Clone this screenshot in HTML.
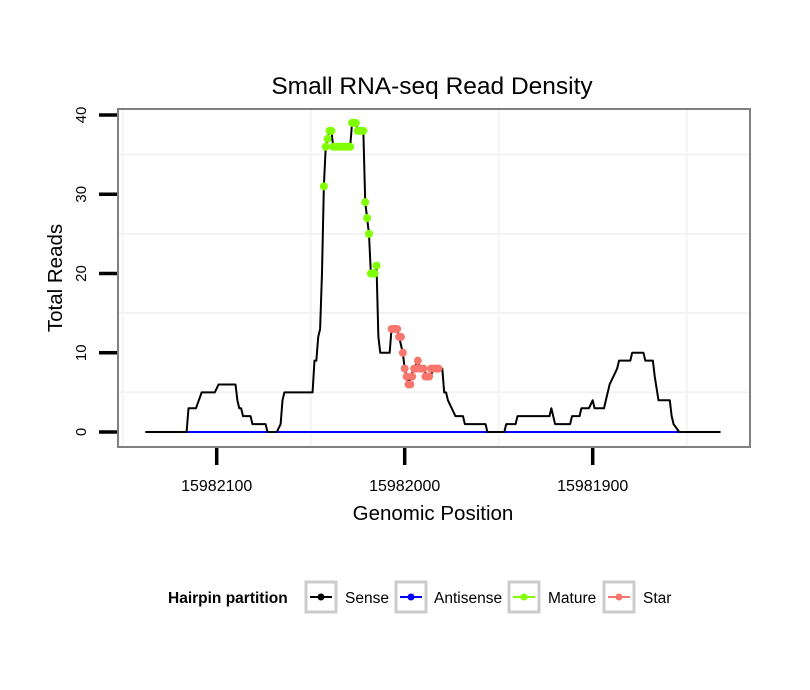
<!DOCTYPE html>
<html><head><meta charset="utf-8"><style>
body{margin:0;background:#fff;}
svg{display:block;font-family:"Liberation Sans",sans-serif;}
</style></head><body>
<svg id="chart" width="810" height="690" viewBox="0 0 810 690" xmlns="http://www.w3.org/2000/svg">
<rect width="810" height="690" fill="#fff"/>
<text x="432" y="94" font-size="24.5" text-anchor="middle" fill="#000">Small RNA-seq Read Density</text>
<g id="grid"></g>
<g id="series"></g>
<rect x="118" y="109" width="632" height="338" fill="none" stroke="#808080" stroke-width="2"/>
<g id="axes"></g>
<text x="433" y="520" font-size="20.5" text-anchor="middle">Genomic Position</text>
<text transform="translate(62,278) rotate(-90)" font-size="20.5" text-anchor="middle">Total Reads</text>
<g>
<text x="168" y="603" font-size="15.5" font-weight="bold">Hairpin partition</text>
<g>
<rect x="306" y="582" width="30" height="30" fill="#fff" stroke="#cccccc" stroke-width="3"/>
<line x1="310" y1="597" x2="332" y2="597" stroke="#000" stroke-width="2"/><circle cx="321" cy="597" r="3.5" fill="#000"/>
<text x="345" y="603" font-size="15.5">Sense</text></g>
<g>
<rect x="396" y="582" width="30" height="30" fill="#fff" stroke="#cccccc" stroke-width="3"/>
<line x1="400" y1="597" x2="422" y2="597" stroke="#0000ff" stroke-width="2"/><circle cx="411" cy="597" r="3.5" fill="#0000ff"/>
<text x="434" y="603" font-size="15.5">Antisense</text></g>
<g>
<rect x="509" y="582" width="30" height="30" fill="#fff" stroke="#cccccc" stroke-width="3"/>
<line x1="513" y1="597" x2="535" y2="597" stroke="#7fff00" stroke-width="2"/><circle cx="524" cy="597" r="3.5" fill="#7fff00"/>
<text x="548" y="603" font-size="15.5">Mature</text></g>
<g>
<rect x="604" y="582" width="30" height="30" fill="#fff" stroke="#cccccc" stroke-width="3"/>
<line x1="608" y1="597" x2="630" y2="597" stroke="#f8766d" stroke-width="2"/><circle cx="619" cy="597" r="3.5" fill="#f8766d"/>
<text x="643" y="603" font-size="15.5">Star</text></g>
</g>
</svg>
<script>
const BASE = 15982100;
const senseOffsets = [-38,-16,-15,-11,-8,-1,1,10,11,12,13,14,18,19,26,27,32,34,35,36,51,52,53,54,55,56,57,58,59,60,61,62,71,72,74,75,78,79,80,81,82,84,85,86,87,92,93,96,97,99,100,101,102,103,105,107,108,110,112,114,115,120,121,122,123,125,127,131,132,143,144,153,154,159,160,177,178,180,188,189,193,194,198,200,201,206,209,211,213,214,220,221,227,228,232,233,235,241,242,243,246,268];
const senseValues = [0,0,3,3,5,5,6,6,4,3,3,2,2,1,1,0,0,1,4,5,5,9,9,12,13,20,31,36,37,38,38,36,36,39,39,38,38,29,27,25,20,20,21,12,10,10,13,13,12,10,8,7,6,7,8,9,8,8,7,7,8,8,5,5,4,3,2,2,1,1,0,0,1,1,2,2,3,1,1,2,2,3,3,4,3,3,6,7,8,9,9,10,10,9,9,7,4,4,2,1,0,0];
const antisenseOffsets = [-16,246];
const antisenseValues = [0,0];
const matureOffsets = [57,58,59,60,61,62,63,64,65,66,67,68,69,70,71,72,73,74,75,76,77,78,79,80,81,82,83,84,85];
const matureValues = [31,36,37,38,38,36,36,36,36,36,36,36,36,36,36,39,39,39,38,38,38,38,29,27,25,20,20,20,21];
const starOffsets = [93,94,95,96,97,98,99,100,101,102,103,104,105,106,107,108,109,110,111,112,113,114,115,116,117,118];
const starValues = [13,13,13,13,12,12,10,8,7,6,6,7,8,8,9,8,8,8,7,7,7,8,8,8,8,8];
const xTicks = [15982100,15982000,15981900];
const yTicks = [0,10,20,30,40];

const NS = "http://www.w3.org/2000/svg";
function xs(pos){ return 216.7 + (BASE - pos) * 1.88; }
function ys(v){ return 432 - v * 7.925; }
function mk(tag, attrs, parent){ const e=document.createElementNS(NS,tag); for(const k in attrs) e.setAttribute(k,attrs[k]); parent.appendChild(e); return e; }

const grid=document.getElementById('grid');
[5,15,25,35].forEach(v=>{
  const l=mk('line',{x1:119,x2:749,y1:ys(v),y2:ys(v),stroke:'#f3f3f3','stroke-width':2},grid);
  
  
});
[15982150,15982050,15981950,15981850].forEach(p=>{
  const x=xs(p); if(x<119||x>749) return;
  const l=mk('line',{x1:x,x2:x,y1:110,y2:446,stroke:'#f3f3f3','stroke-width':2},grid);
  
  
});

const series=document.getElementById('series');
function pts(offs, vals){ return offs.map((o,i)=>xs(BASE-o)+','+ys(vals[i])).join(' '); }
const aLine=mk('polyline',{points:pts(antisenseOffsets,antisenseValues),fill:'none',stroke:'#0000ff','stroke-width':2},series);


const sLine=mk('polyline',{points:pts(senseOffsets,senseValues),fill:'none',stroke:'#000','stroke-width':2,'stroke-linejoin':'round'},series);


matureOffsets.forEach((o,i)=>{
  const c=mk('circle',{cx:xs(BASE-o),cy:ys(matureValues[i]),r:4,fill:'#7fff00'},series);
  
  
});
starOffsets.forEach((o,i)=>{
  const c=mk('circle',{cx:xs(BASE-o),cy:ys(starValues[i]),r:4,fill:'#f8766d'},series);
  
  
});

const axes=document.getElementById('axes');
yTicks.forEach(v=>{
  const t=mk('line',{x1:99,x2:117,y1:ys(v),y2:ys(v),stroke:'#000','stroke-width':3.5},axes);
  
  
  const lb=mk('text',{transform:'translate('+86+','+ys(v)+') rotate(-90)','font-size':15,'text-anchor':'middle'},axes);
  lb.textContent=String(v);
  
  
});
xTicks.forEach(p=>{
  const x=xs(p);
  const t=mk('line',{x1:x,x2:x,y1:448,y2:465,stroke:'#000','stroke-width':3.5},axes);
  
  
  const lb=mk('text',{x:x,y:491,'font-size':16,'text-anchor':'middle'},axes);
  lb.textContent=String(p);
  
  
});
</script>
</body></html>
